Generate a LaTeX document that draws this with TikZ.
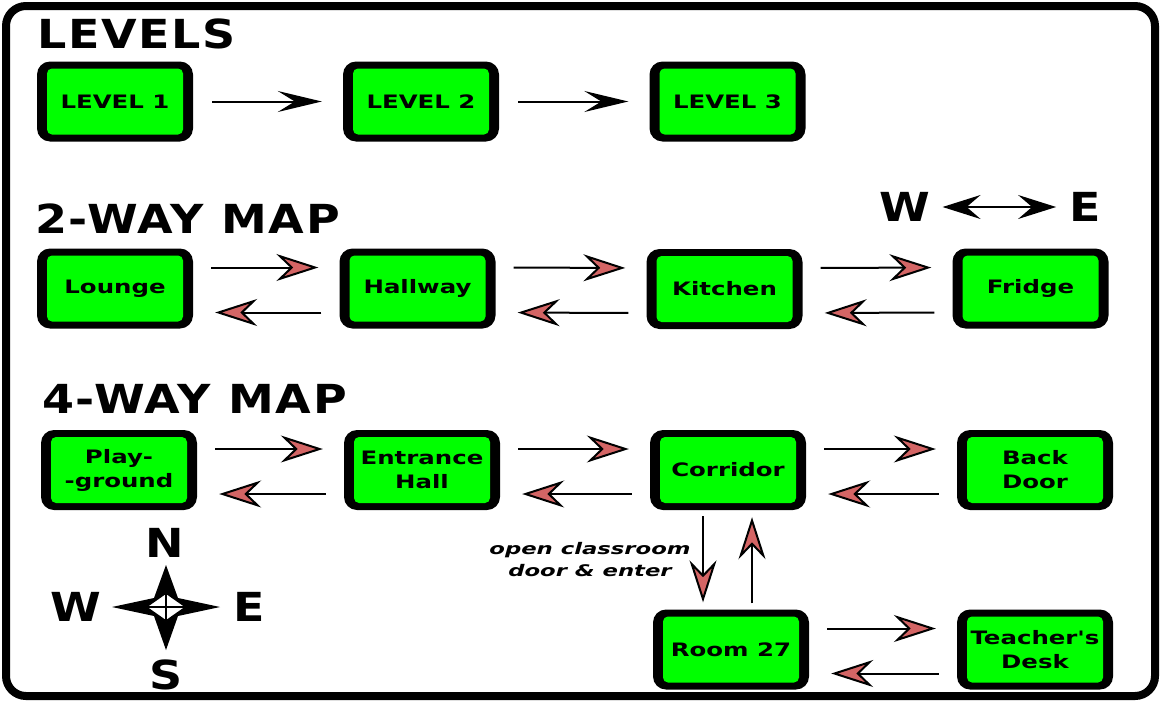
\documentclass[tikz,border=0pt]{standalone}
\usepackage{fontspec}
\setmainfont{DejaVu Sans}
\newfontfamily\roomfont[FakeStretch=1.32]{DejaVu Sans}
\newfontfamily\notefont[FakeStretch=1.42]{DejaVu Sans}
\newfontfamily\headfont[FakeStretch=1.15, LetterSpace=4]{DejaVu Sans}
\usetikzlibrary{arrows.meta}
\definecolor{roomgreen}{RGB}{0,255,0}
\definecolor{tipred}{RGB}{212,101,101}

\begin{document}
\begin{tikzpicture}[x=1pt, y=1pt,
  room/.style={rectangle, rounded corners=13pt, fill=black,
    minimum width=156pt, minimum height=80pt, align=center,
    path picture={\fill[roomgreen, rounded corners=5pt]
      ([shift={(10pt,7pt)}]path picture bounding box.south west) rectangle
      ([shift={(-10pt,-7pt)}]path picture bounding box.north east);},
    font=\roomfont\bfseries\fontsize{18.5}{24}\selectfont},
  heading/.style={anchor=base west, inner sep=0pt, font=\headfont\bfseries\fontsize{40}{40}\selectfont},
  point/.style={inner sep=0pt, font=\headfont\bfseries\fontsize{40}{40}\selectfont},
  way/.style={line width=2pt, -{Stealth[length=42pt, width=27pt, inset=14pt, fill=tipred]}},
  onward/.style={line width=2pt, -{Stealth[length=44pt, width=21pt, inset=17pt]}}
]
\useasboundingbox (0,0) rectangle (1161,-704);
\draw[line width=8pt, rounded corners=20pt] (6,-6) rectangle (1155,-696);

\node[heading] (levels) at (37,-48) {LEVELS};
\node[heading] (twoway) at (35,-233) {2-WAY MAP};
\node[heading] (fourway) at (42,-413) {4-WAY MAP};

\node at (115,-101.5) [room] (lev1) {LEVEL 1};
\node at (421,-101.5) [room] (lev2) {LEVEL 2};
\node at (727.5,-101.5) [room] (lev3) {LEVEL 3};

\node at (115,-288.5) [room] (lounge) {Lounge};
\node at (417.5,-288.5) [room] (hallway) {Hallway};
\node at (724.5,-289) [room] (kitchen) {Kitchen};
\node at (1030.5,-288.5) [room] (fridge) {Fridge};

\node at (119,-470) [room] (playground) {Play-\\-ground};
\node at (422,-470) [room] (entrance) {Entrance\\Hall};
\node at (728,-470) [room] (corridor) {Corridor};
\node at (1035,-470) [room] (backdoor) {Back\\Door};
\node at (731,-649.5) [room] (room27) {Room 27};
\node at (1035,-649.5) [room] (desk) {Teacher's\\Desk};

\draw[onward, shorten <=19pt, shorten >=21pt] (lev1.east) -- (lev2.west);
\draw[onward, shorten <=19pt, shorten >=21pt] (lev2.east) -- (lev3.west);

\foreach \a/\b in {lounge/hallway, hallway/kitchen, kitchen/fridge, playground/entrance, entrance/corridor, corridor/backdoor, room27/desk} {
  \draw[way, shorten <=18pt, shorten >=21pt] ([yshift=21pt]\a.east) -- ([yshift=21pt]\b.west);
  \draw[way, shorten <=18pt, shorten >=22pt] ([yshift=-24pt]\b.west) -- ([yshift=-24pt]\a.east);
}

\draw[way, shorten <=6pt, shorten >=7pt] ([xshift=-25pt]corridor.south) -- ([xshift=-25pt]corridor.south |- room27.north);
\draw[way, shorten <=6pt, shorten >=7pt] ([xshift=21pt]room27.north) -- ([xshift=21pt]room27.north |- corridor.south);
\node at (590,-560) [align=center, font=\notefont\bfseries\itshape\fontsize{16}{22}\selectfont] (enter) {open classroom\\door \& enter};

\node at (905,-207) [point] (west) {W};
\node at (1085,-207) [point] (east) {E};
\draw[line width=1.5pt, {Stealth[length=38pt, width=24pt, inset=14pt]}-{Stealth[length=38pt, width=24pt, inset=14pt]}, shorten <=12pt, shorten >=13pt] (west) -- (east);

\fill (166,-565) -- (178,-598) -- (220,-607) -- (178,-616) -- (166,-650) -- (154,-616) -- (112,-607) -- (154,-598) -- cycle;
\draw[fill=white, line width=1.5pt] (166,-593) -- (186,-607) -- (166,-621) -- (146,-607) -- cycle;
\draw[line width=1.5pt] (166,-593) -- (166,-621) (146,-607) -- (186,-607);
\node at (165,-543) [point] (north) {N};
\node at (166,-675) [point] (south) {S};
\node at (76,-607) [point] (cwest) {W};
\node at (249,-607) [point] (ceast) {E};
\end{tikzpicture}
\end{document}
